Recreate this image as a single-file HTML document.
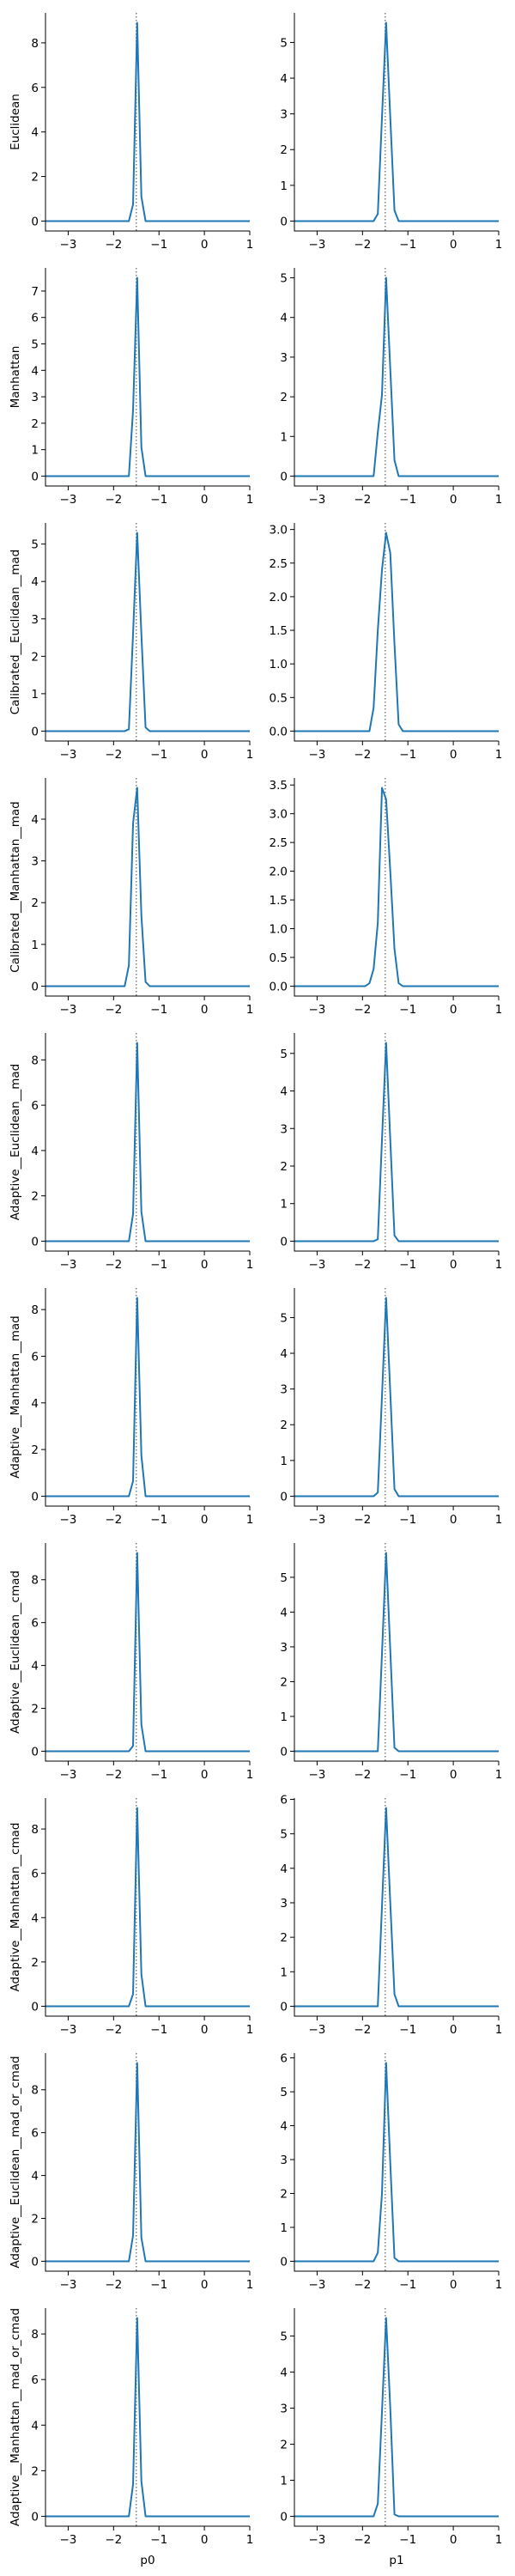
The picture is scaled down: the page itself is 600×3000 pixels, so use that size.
<!DOCTYPE html>
<html><head><meta charset="utf-8"><style>
body{margin:0;background:#fff}
svg{display:block}
text{font-family:"DejaVu Sans","Liberation Sans",sans-serif;font-size:13.5px;fill:#000}
</style></head><body>
<svg id="fig" width="600" height="3000" xmlns="http://www.w3.org/2000/svg"></svg>
<script>
// Shared data
const rowNames = ["Euclidean","Manhattan","Calibrated__Euclidean__mad","Calibrated__Manhattan__mad","Adaptive__Euclidean__mad","Adaptive__Manhattan__mad","Adaptive__Euclidean__cmad","Adaptive__Manhattan__cmad","Adaptive__Euclidean__mad_or_cmad","Adaptive__Manhattan__mad_or_cmad"];
const colNames = ["p0","p1"];
const xTicks = [-3,-2,-1,0,1];
const xDomain = [-3.5,1];
const trueValue = -1.5;
// grid x positions (k=17..26 of a 50-point grid over [-3.5,1])
const gridX = [-1.939,-1.847,-1.755,-1.663,-1.571,-1.480,-1.388,-1.296,-1.204,-1.112];
// density values at gridX, per panel (p0 then p1)
const p0Values = [
 [0,0,0,0,0.75,8.9,1.1,0,0,0],
 [0,0,0,0,2.5,7.5,1.1,0,0,0],
 [0,0,0,0.05,2.6,5.3,2.6,0.1,0,0],
 [0,0,0,0.5,3.9,4.75,1.7,0.1,0,0],
 [0,0,0,0,1.2,8.75,1.3,0,0,0],
 [0,0,0,0,0.65,8.5,1.75,0,0,0],
 [0,0,0,0,0.25,9.25,1.25,0,0,0],
 [0,0,0,0,0.55,8.95,1.45,0,0,0],
 [0,0,0,0,1.2,9.25,1.1,0,0,0],
 [0,0,0,0,1.4,8.7,1.55,0,0,0]
];
const p1Values = [
 [0,0,0,0.2,2.9,5.55,2.9,0.3,0,0],
 [0,0,0,1.1,2.05,5.0,2.7,0.4,0,0],
 [0,0,0.35,1.5,2.4,2.95,2.65,1.3,0.1,0],
 [0,0.05,0.3,1.1,3.45,3.25,2.0,0.65,0.05,0],
 [0,0,0,0.05,2.7,5.28,2.7,0.15,0,0],
 [0,0,0,0.1,2.8,5.55,2.9,0.2,0,0],
 [0,0,0,0,2.8,5.7,2.9,0.1,0,0],
 [0,0,0,0,2.9,5.75,3.0,0.35,0,0],
 [0,0,0,0.25,2.0,5.85,2.9,0.1,0,0],
 [0,0,0,0.35,2.9,5.5,3.0,0.05,0,0]
];

const NS="http://www.w3.org/2000/svg";
const svg=document.getElementById('fig');
function mk(tag,attrs,parent){const e=document.createElementNS(NS,tag);for(const k in attrs)e.setAttribute(k,attrs[k]);(parent||svg).appendChild(e);return e;}
function fmt(v,step){let s=step<1?v.toFixed(1):String(Math.round(v));return s.replace('-','\u2212');}

const axLeft=[53,343], axW=238, axTop0=15, axH=254, rowStep=297;

for(let r=0;r<rowNames.length;r++){
 for(let c=0;c<2;c++){
  const vals=c===0?p0Values[r]:p1Values[r];
  const x0=axLeft[c], y0=axTop0+r*rowStep, y1=y0+axH;
  const g=mk('g',{});
  
  
  const ymax=Math.max(...vals);
  const lo=-0.05*ymax, hi=ymax*1.05;
  const sx=v=>x0+(v-xDomain[0])/(xDomain[1]-xDomain[0])*axW;
  const sy=v=>y1-(v-lo)/(hi-lo)*axH;
  // y ticks
  const range=hi-lo;const mag=Math.pow(10,Math.floor(Math.log10(range)));
  let step=null;for(const m of [0.1,0.2,0.25,0.5,1,2,2.5,5,10]){const s=m*mag;if(range/s<=9){step=s;break;}}
  for(let t=0;t<=hi+1e-9;t+=step){
   const y=sy(t);
   mk('line',{x1:x0-5,x2:x0,y1:y,y2:y,stroke:'#000','stroke-width':1},g);
   const tx=mk('text',{x:x0-8,y:y+5,'text-anchor':'end'},g);tx.textContent=fmt(t,step);
   
   
  }
  // x ticks
  for(const t of xTicks){
   const x=sx(t);
   mk('line',{x1:x,x2:x,y1:y1,y2:y1+5,stroke:'#000','stroke-width':1},g);
   const tx=mk('text',{x:x,y:y1+20,'text-anchor':'middle'},g);tx.textContent=fmt(t,1);
   
   
  }
  // true value line
  const tl=mk('line',{x1:sx(trueValue),x2:sx(trueValue),y1:y0,y2:y1,stroke:'#808080','stroke-width':1.5,'stroke-dasharray':'1.5,2.5'},g);
  
  
  // series
  const pts=[[xDomain[0],0]];for(let i=0;i<gridX.length;i++)pts.push([gridX[i],vals[i]]);pts.push([xDomain[1],0]);
  const pl=mk('polyline',{points:pts.map(p=>sx(p[0]).toFixed(2)+','+sy(p[1]).toFixed(2)).join(' '),fill:'none',stroke:'#1f77b4','stroke-width':2,'stroke-linejoin':'round'},g);
  
  
  // spines
  mk('line',{x1:x0,x2:x0,y1:y0,y2:y1+0.5,stroke:'#000','stroke-width':1},g);
  mk('line',{x1:x0,x2:x0+axW,y1:y1,y2:y1,stroke:'#000','stroke-width':1},g);
  if(c===0){
   const yl=mk('text',{x:0,y:0,'text-anchor':'middle',transform:'translate(22,'+(y0+axH/2)+') rotate(-90)'},g);
   yl.textContent=rowNames[r];
   
   
  }
  if(r===rowNames.length-1){
   const xl=mk('text',{x:x0+axW/2,y:y1+44,'text-anchor':'middle'},g);
   xl.textContent=colNames[c];
   
   
  }
 }
}
</script>
</body></html>
